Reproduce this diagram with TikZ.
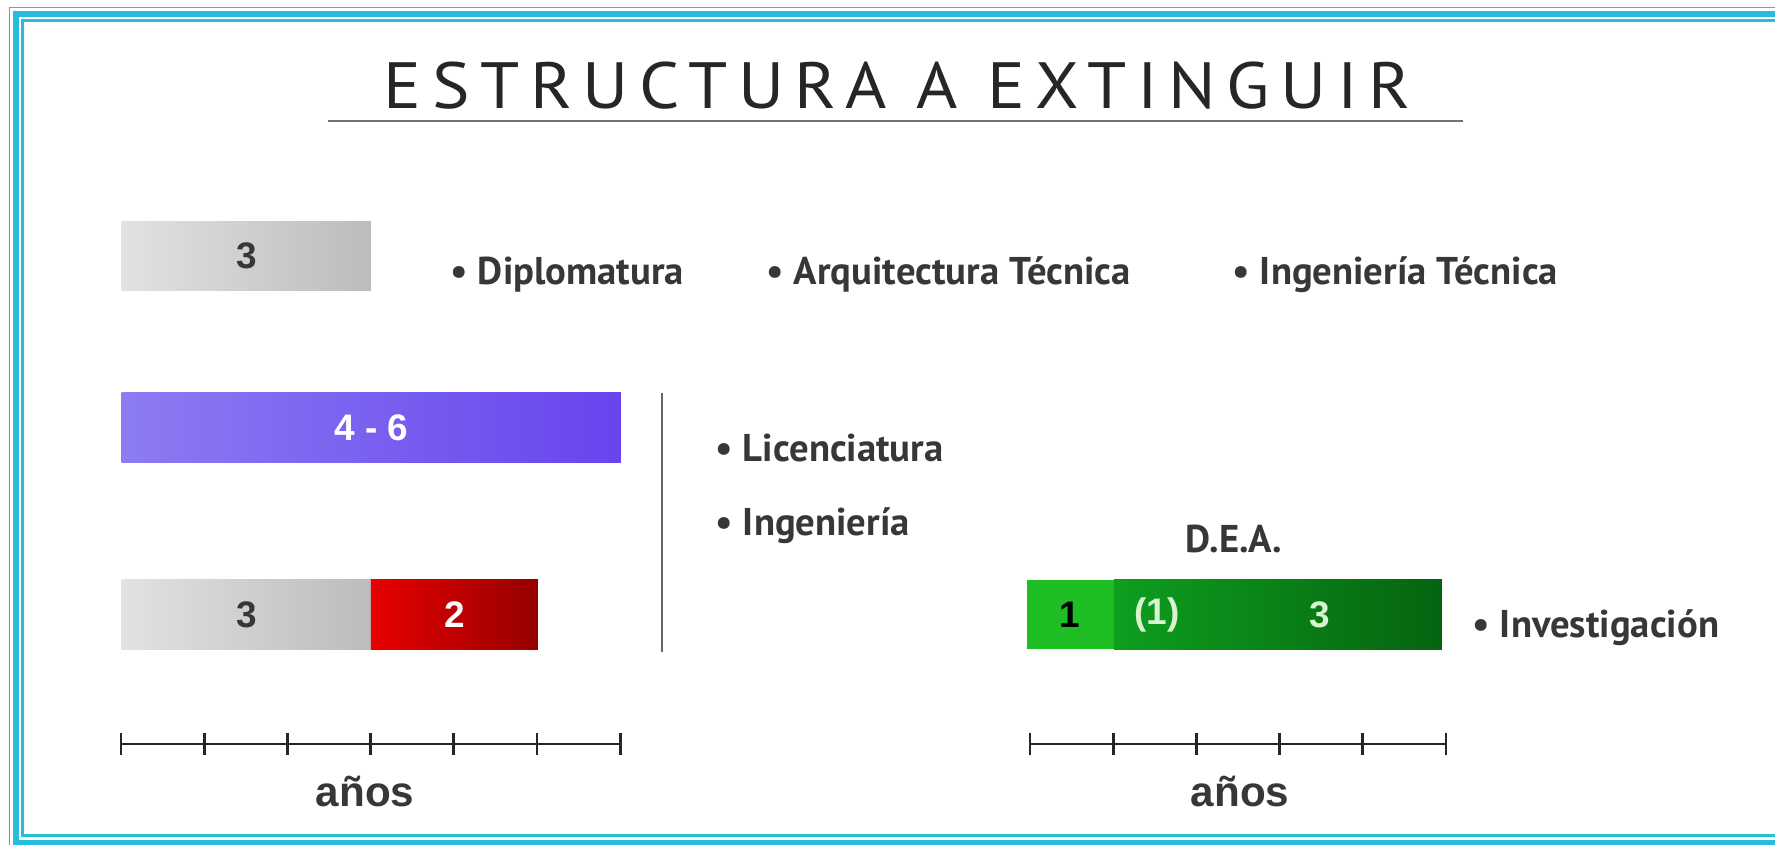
\documentclass[tikz,border=0pt]{standalone}
\usepackage{fontspec}
\setmainfont{PT Sans}
\newfontfamily\barfont{Liberation Sans}
\usetikzlibrary{calc,positioning}

\definecolor{frame}{RGB}{38,188,222}
\definecolor{txt}{RGB}{55,55,55}
\definecolor{greyL}{RGB}{226,226,226}
\definecolor{greyR}{RGB}{188,188,188}
\definecolor{lilaL}{RGB}{140,124,242}
\definecolor{lilaR}{RGB}{104,68,238}
\definecolor{redL}{RGB}{232,0,0}
\definecolor{redR}{RGB}{150,0,0}
\definecolor{greenA}{RGB}{30,190,36}
\definecolor{greenL}{RGB}{14,158,30}
\definecolor{greenR}{RGB}{5,100,16}
\definecolor{greenT}{RGB}{214,245,206}

\begin{document}
\begin{tikzpicture}[x=0.01cm,y=-0.01cm,
  bar/.style={anchor=west,minimum height=0.69cm,inner sep=0pt,
    font=\barfont\bfseries\fontsize{10.5}{12}\selectfont},
  item/.style={anchor=base west,inner sep=0pt,text=txt,
    font=\bfseries\fontsize{11}{13}\selectfont},
  axis/.style={line width=0.8pt,black!85}]
\useasboundingbox (0,0) rectangle (1775,844);
\begin{scope}
\clip (0,0) rectangle (1775,844);
% frame
\draw[frame,line width=0.45pt] (9.5,7.5) rectangle (1795,852);
\draw[frame,line width=1.7pt] (16,14) rectangle (1788,843);
\draw[frame,line width=0.6pt] (22.5,20.5) rectangle (1781,835.5);
\end{scope}

% title
\node[anchor=base,text=black!85,xscale=1.08,
  font=\addfontfeature{LetterSpace=15}\fontsize{18.6}{22}\selectfont]
  (title) at (897,108) {ESTRUCTURA A EXTINGUIR};
\draw[black!55,line width=0.6pt] (328,121) -- (1463,121);

% bars
\node[bar,minimum width=2.49cm,left color=greyL,right color=greyR,text=txt]
  (dip) at (121,256) {3};
\node[bar,minimum width=4.99cm,left color=lilaL,right color=lilaR,text=white]
  (lic) at (121,427.5) {4 - 6};
\node[bar,minimum width=2.49cm,left color=greyL,right color=greyR,text=txt]
  (ing1) at (121,614.5) {3};
\node[bar,minimum width=1.67cm,left color=redL,right color=redR,text=white,
  right=-0.4pt of ing1] (ing2) {2};
\node[bar,minimum width=0.87cm,fill=greenA,text=black]
  (inv1) at (1026,614.5) {1};
\node[bar,minimum width=3.28cm,left color=greenL,right color=greenR,
  right=-0.4pt of inv1] (inv2) {};
\node[bar,anchor=center,text=greenT] (dea1) at (1157,614.5) {(1)};
\node[bar,anchor=center,text=greenT] (dea3) at (1320,614.5) {3};

\draw[black!60,line width=0.6pt] (662,393) -- (662,652);

% labels
\node[item] (t1) at (450,284) {• Diplomatura};
\node[item] (t2) at (766,284) {• Arquitectura Técnica};
\node[item] (t3) at (1232,284) {• Ingeniería Técnica};
\node[item] (t4) at (715,461) {• Licenciatura};
\node[item] (t5) at (715,535) {• Ingeniería};
\node[item,anchor=base] (dea) at (1234,552) {D.E.A.};
\node[item] (t6) at (1472,637) {• Investigación};

% axes
\coordinate (ax1) at (121,744);
\coordinate (ax2) at (1030,744);
\draw[axis] (ax1) -- ++(499,0);
\foreach \i in {0,...,6}
  \draw[axis] ($(ax1)+(\i*83.2,-11)$) -- ++(0,22);
\draw[axis] (ax2) -- ++(416,0);
\foreach \i in {0,...,5}
  \draw[axis] ($(ax2)+(\i*83.2,-11)$) -- ++(0,22);
\node[anchor=base,text=txt,font=\barfont\bfseries\fontsize{12}{14}\selectfont]
  (anos1) at (365,806) {años};
\node[anchor=base,text=txt,font=\barfont\bfseries\fontsize{12}{14}\selectfont]
  (anos2) at (1240,806) {años};
\end{tikzpicture}
\end{document}
